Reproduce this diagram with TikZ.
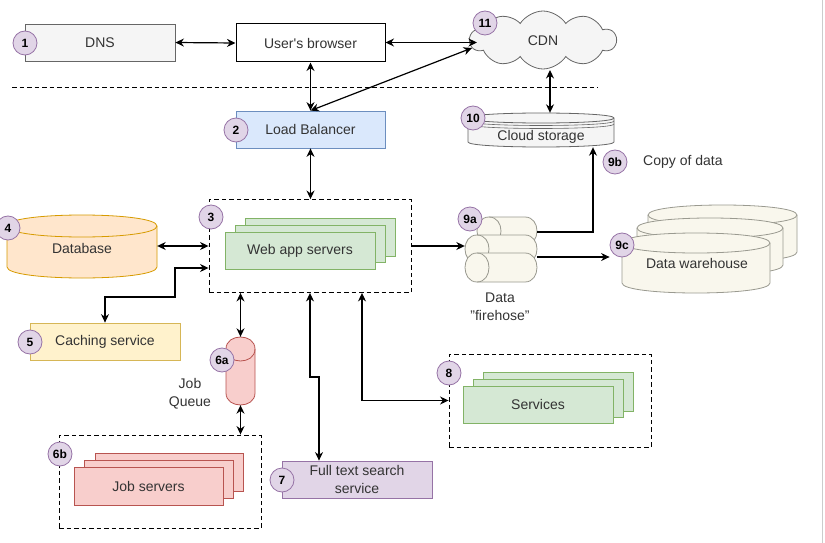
\documentclass[tikz,border=0pt]{standalone}
\usepackage{fontspec}
\setmainfont{Liberation Sans}
\usetikzlibrary{shapes.symbols,calc,arrows.meta}
\definecolor{txt}{HTML}{333333}
\definecolor{grayF}{HTML}{F5F5F5}\definecolor{grayD}{HTML}{666666}
\definecolor{blueF}{HTML}{DAE8FC}\definecolor{blueD}{HTML}{6C8EBF}
\definecolor{greenF}{HTML}{D5E8D4}\definecolor{greenD}{HTML}{82B366}
\definecolor{orangeF}{HTML}{FFE6CC}\definecolor{orangeD}{HTML}{D79B00}
\definecolor{yellowF}{HTML}{FFF2CC}\definecolor{yellowD}{HTML}{D6B656}
\definecolor{redF}{HTML}{F8CECC}\definecolor{redD}{HTML}{B85450}
\definecolor{purpleF}{HTML}{E1D5E7}\definecolor{purpleD}{HTML}{9673A6}
\definecolor{beigeF}{HTML}{F9F7ED}\definecolor{beigeD}{HTML}{9A9A90}
\newcommand{\mainfs}{\fontsize{14}{18}\selectfont}
\newcommand{\vcyl}[6]{%
 \draw[#1] ({#2},{#4+#6}) -- ({#2},{#5-#6}) .. controls ({#2},{#5+#6/3}) and ({#3},{#5+#6/3}) .. ({#3},{#5-#6}) -- ({#3},{#4+#6}) .. controls ({#3},{#4-#6/3}) and ({#2},{#4-#6/3}) .. ({#2},{#4+#6}) -- cycle;
 \draw[#1,fill=none] ({#2},{#4+#6}) .. controls ({#2},{#4+#6*7/3}) and ({#3},{#4+#6*7/3}) .. ({#3},{#4+#6});}
\newcommand{\hcyl}[6]{%
 \draw[#1] ({#2+#6},{#4}) -- ({#3-#6},{#4}) .. controls ({#3+#6/3},{#4}) and ({#3+#6/3},{#5}) .. ({#3-#6},{#5}) -- ({#2+#6},{#5}) .. controls ({#2-#6/3},{#5}) and ({#2-#6/3},{#4}) .. ({#2+#6},{#4}) -- cycle;
 \draw[#1,fill=none] ({#2+#6},{#4}) .. controls ({#2+#6*7/3},{#4}) and ({#2+#6*7/3},{#5}) .. ({#2+#6},{#5});}
\begin{document}
\begin{tikzpicture}[x=1pt,y=-1pt,
  every node/.style={font=\mainfs,text=txt},
  box/.style={draw,line width=0.8pt,minimum width=150pt,minimum height=37pt,inner sep=0pt},
  grp/.style={draw=black,dash pattern=on 4.5pt off 3pt,line width=0.9pt,minimum width=202pt,minimum height=93pt,inner sep=0pt},
  badge/.style={circle,draw=purpleD,fill=purpleF,line width=0.8pt,minimum size=24pt,inner sep=0pt,font=\fontsize{12}{12}\selectfont\bfseries,text=black},
  plain/.style={inner sep=0pt,align=center},
  bi/.style={{Stealth[length=8.5pt,width=8pt]}-{Stealth[length=8.5pt,width=8pt]},line width=1.2pt,black},
  uni/.style={-{Stealth[length=8.5pt,width=8pt]},line width=1.2pt,black},
  cylb/.style={fill=beigeF,draw=beigeD,line width=0.8pt},
]
\useasboundingbox (0,0) rectangle (825,543);
\fill[white] (0,0) rectangle (825,543);
\draw[black!20,line width=1pt] (822,0) -- (822,543);

% top row
\node[box,fill=grayF,draw=grayD] (dns) at (100,42.5) {DNS};
\node[box,fill=white,draw=black,line width=1pt,minimum width=149pt,minimum height=38pt] (browser) at (310.5,43) {User\textquotesingle s browser};
\node[cloud,cloud puffs=10,cloud puff arc=115,aspect=2.5,draw=grayD,fill=grayF,line width=0.8pt,minimum width=146pt,minimum height=58pt,inner sep=0pt] (cdn) at (543,40) {};
\node[plain] (cdnt) at (543,41) {CDN};
\coordinate (dl1) at (12,87);
\coordinate (dl2) at (598,87);
\draw[dash pattern=on 4.5pt off 3pt,line width=0.9pt] (dl1) -- (dl2);

\node[box,fill=blueF,draw=blueD,minimum width=149pt] (lb) at (310.5,129.5) {Load Balancer};

% cloud storage
\vcyl{fill=grayF,draw=grayD,line width=0.8pt}{468}{614}{113}{147}{5}
\draw[grayD,line width=0.6pt] (468,121) .. controls (468,127) and (614,127) .. (614,121);
\draw[grayD,line width=0.6pt] (468,124) .. controls (468,130) and (614,130) .. (614,124);
\node[plain,minimum width=146pt,minimum height=34pt] (cs) at (541,130) {};
\node[plain] (cst) at (541,137) {Cloud storage};
\node[plain,anchor=west] (copy) at (643,162) {Copy of data};

% web app group
\node[grp] (webgrp) at (310,246) {};
\node[box,fill=greenF,draw=greenD,minimum height=38pt] (wa3) at (320,237) {};
\node[box,fill=greenF,draw=greenD] (wa2) at (310,243.5) {};
\node[box,fill=greenF,draw=greenD] (wa1) at (300,250.5) {Web app servers};

% database
\vcyl{fill=orangeF,draw=orangeD,line width=0.8pt}{7}{157}{215}{278}{11}
\node[plain,minimum width=150pt,minimum height=63pt] (db) at (82,246.5) {};
\node[plain] (dbt) at (82,248) {Database};

% caching
\node[box,fill=yellowF,draw=yellowD] (cache) at (105,341.5) {Caching service};

% job queue
\vcyl{fill=redF,draw=redD,line width=0.8pt}{226}{255}{337}{405}{12}
\node[plain,minimum width=29pt,minimum height=68pt] (jq) at (240.5,371) {};
\node[plain] (jqt) at (190,394) {Job\\Queue};

% job servers
\node[grp,minimum height=93pt] (jobgrp) at (160,481.5) {};
\node[box,fill=redF,draw=redD,minimum width=148pt,minimum height=38pt] (js3) at (169,472) {};
\node[box,fill=redF,draw=redD,minimum width=149pt,minimum height=38pt] (js2) at (158.5,479) {};
\node[box,fill=redF,draw=redD,minimum width=149pt,minimum height=38pt] (js1) at (148.5,486) {Job servers};

% full text search
\node[box,fill=purpleF,draw=purpleD,align=center] (fts) at (357,479.5) {Full text search\\service};

% services
\node[grp] (svcgrp) at (550,400.5) {};
\node[box,fill=greenF,draw=greenD,minimum height=39pt] (sv3) at (558,391.5) {};
\node[box,fill=greenF,draw=greenD,minimum height=38pt] (sv2) at (548,398) {};
\node[box,fill=greenF,draw=greenD] (sv1) at (538,404.5) {Services};

% firehose
\hcyl{cylb}{477}{537}{217}{245}{12}
\hcyl{cylb}{465}{537}{235}{263}{12}
\hcyl{cylb}{465}{537}{253}{282}{12}
\node[plain,minimum width=72pt,minimum height=65pt] (fh) at (501,249.5) {};
\node[plain] (fht) at (500,307) {Data\\"firehose"};

% data warehouse
\vcyl{cylb}{648}{797}{205}{262}{10}
\vcyl{cylb}{637}{783}{218}{275}{10}
\vcyl{cylb}{622}{770}{233}{293}{10}
\node[plain,minimum width=148pt,minimum height=60pt] (dw) at (696,263) {};
\node[plain] (dwt) at (697,263) {Data warehouse};

% badges
\node[badge] (b1) at (25,43) {1};
\node[badge] (b2) at (236,130) {2};
\node[badge] (b3) at (211,217) {3};
\node[badge] (b4) at (8,228) {4};
\node[badge] (b5) at (30,342) {5};
\node[badge] (b6a) at (222,360) {6a};
\node[badge] (b6b) at (60,454) {6b};
\node[badge] (b7) at (282,480) {7};
\node[badge] (b8) at (449,373) {8};
\node[badge] (b9a) at (470,219) {9a};
\node[badge] (b9b) at (615,162) {9b};
\node[badge] (b9c) at (622,245) {9c};
\node[badge] (b10) at (473,118) {10};
\node[badge] (b11) at (485,23) {11};

% connectors
\draw[bi] (dns.east) -- (browser.west);
\coordinate (cdnA) at (477,42.5);
\coordinate (cdnB) at (472,48);
\draw[bi] (browser.east |- cdnA) -- (cdnA);
\draw[bi] (lb.north) -- (cdnB);
\draw[bi] (browser.south) -- (lb.north);
\coordinate (cdnS) at (550,70);
\draw[bi] (cdnS) -- (cdnS |- cs.north);
\draw[bi] (lb.south) -- (lb.south |- webgrp.north);
\draw[bi] (db.east |- webgrp.west) -- (webgrp.west);
\draw[bi] ($(webgrp.west)+(0,22)$) -| (175,297) -| (cache.north);
\draw[bi] (jq.north |- webgrp.south) -- (jq.north);
\draw[bi] (jq.south) -- (jq.south |- jobgrp.north);
\draw[bi] (webgrp.south) -- ++(0,84) -| ($(fts.north)+(-38,0)$);
\draw[bi] ($(webgrp.south)+(52,0)$) |- (svcgrp.west);
\draw[uni] (webgrp.east) -- (webgrp.east -| fh.west);
\coordinate (fhB) at ($(fh.east)+(0,7.5)$);
\draw[uni] (fhB) -- (fhB -| b9c.west);
\coordinate (fhA) at ($(fh.east)+(0,-17.5)$);
\draw[uni] (fhA) -| ($(cs.south)+(52,0)$);
\end{tikzpicture}
\end{document}
